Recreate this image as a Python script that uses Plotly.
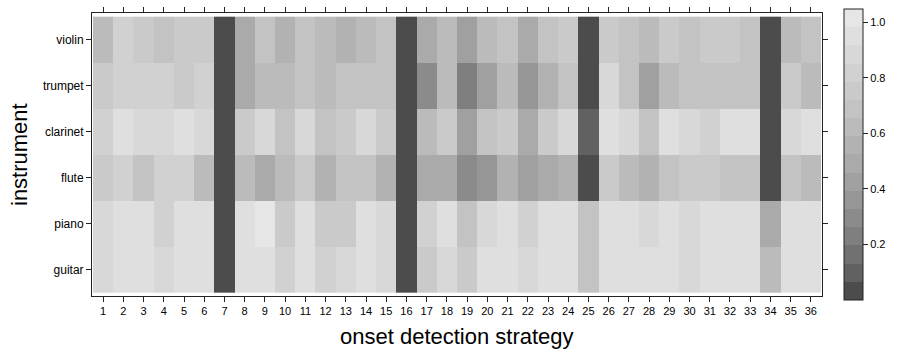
import plotly.graph_objects as go

instruments = ["guitar", "piano", "flute", "clarinet", "trumpet", "violin"]
strategies = list(range(1, 37))

violin = [0.62,0.82,0.75,0.69,0.75,0.75,0.02,0.49,0.69,0.56,0.69,0.62,0.56,0.62,0.69,0.02,0.49,0.62,0.43,0.62,0.69,0.49,0.69,0.75,0.02,0.75,0.69,0.62,0.75,0.69,0.75,0.75,0.69,0.02,0.62,0.69]
trumpet = [0.75,0.82,0.82,0.82,0.75,0.82,0.02,0.49,0.62,0.62,0.69,0.62,0.69,0.69,0.69,0.02,0.29,0.62,0.23,0.43,0.62,0.36,0.56,0.69,0.02,0.88,0.69,0.43,0.62,0.69,0.69,0.69,0.69,0.02,0.75,0.62]
clarinet = [0.82,0.95,0.88,0.88,0.95,0.88,0.02,0.75,0.88,0.69,0.88,0.69,0.75,0.88,0.75,0.02,0.62,0.75,0.43,0.69,0.75,0.49,0.75,0.88,0.10,0.95,0.88,0.69,0.95,0.88,0.82,0.95,0.95,0.02,0.88,0.95]
flute = [0.75,0.82,0.69,0.82,0.82,0.62,0.02,0.62,0.49,0.62,0.75,0.56,0.69,0.69,0.56,0.02,0.49,0.49,0.29,0.36,0.56,0.43,0.49,0.56,0.02,0.75,0.62,0.56,0.69,0.75,0.75,0.69,0.69,0.02,0.69,0.62]
piano = [0.88,0.95,0.95,0.82,0.95,0.95,0.02,0.95,1.01,0.75,0.95,0.75,0.75,0.95,0.88,0.02,0.82,0.95,0.69,0.88,0.95,0.82,0.95,0.95,0.69,0.95,0.95,0.88,0.95,0.88,0.95,0.95,0.95,0.49,0.95,0.95]
guitar = [0.88,0.95,0.95,0.88,0.95,0.95,0.02,0.95,0.95,0.82,0.95,0.82,0.88,0.95,0.88,0.02,0.75,0.88,0.75,0.95,0.95,0.88,0.95,0.95,0.69,0.95,0.95,0.95,0.95,0.88,0.95,0.95,0.95,0.62,0.95,0.95]

colorbar_ticks = [0.2, 0.4, 0.6, 0.8, 1.0]
zmin, zmax = 0.0, 1.047
n_levels = 16

# discrete grey palette (like R gray.colors(16, 0.3, 0.9))
gamma = 2.2
start, end = 0.3, 0.9
cols = []
for k in range(n_levels):
    v = (start ** gamma + k / (n_levels - 1) * (end ** gamma - start ** gamma)) ** (1 / gamma)
    g = int(round(v * 255))
    cols.append(f"rgb({g},{g},{g})")
colorscale = []
for k, c in enumerate(cols):
    colorscale.append([k / n_levels, c])
    colorscale.append([(k + 1) / n_levels, c])

z = [guitar, piano, flute, clarinet, trumpet, violin]

fig = go.Figure(go.Heatmap(
    z=z, x=strategies, y=list(range(len(instruments))),
    zmin=zmin, zmax=zmax, colorscale=colorscale,
    xgap=0, ygap=0,
    colorbar=dict(
        x=1.0297, xanchor="left", y=0.5, yanchor="middle",
        thickness=19, thicknessmode="pixels",
        len=291, lenmode="pixels",
        outlinewidth=1, outlinecolor="#222",
        tickvals=colorbar_ticks, ticktext=[f"{t:.1f}" for t in colorbar_ticks],
        ticks="outside", ticklen=5, tickcolor="#222",
        tickfont=dict(size=11, color="#000", family="Liberation Sans"),
        xpad=0, ypad=0,
    ),
))

axis_common = dict(
    showline=True, linecolor="#222", linewidth=1, mirror="ticks",
    ticks="outside", ticklen=5, tickcolor="#222", showgrid=False, zeroline=False,
)
fig.update_xaxes(range=[0.45, 36.55], tickvals=strategies,
                 ticktext=[str(s) for s in strategies],
                 tickfont=dict(size=11, color="#000", family="Liberation Sans"), **axis_common)
fig.update_yaxes(range=[-0.58, 5.58], tickvals=list(range(len(instruments))),
                 ticktext=instruments,
                 tickfont=dict(size=12, color="#000", family="Liberation Sans"), **axis_common)

fig.update_layout(
    width=898, height=350,
    margin=dict(l=92, r=76, t=7, b=54),
    paper_bgcolor="white", plot_bgcolor="white",
    font=dict(family="Liberation Sans", color="#000"),
    annotations=[
        dict(text="instrument", textangle=-90, x=-0.0993, y=0.5, xref="paper", yref="paper",
             showarrow=False, font=dict(size=22, color="#000"), xanchor="center", yanchor="middle"),
        dict(text="onset detection strategy", x=0.5, y=-0.142, xref="paper", yref="paper",
             showarrow=False, font=dict(size=22, color="#000"), xanchor="center", yanchor="middle"),
    ],
)

fig.write_html("out.html", config={"displayModeBar": False},
               post_script="document.body.style.margin='0';")
